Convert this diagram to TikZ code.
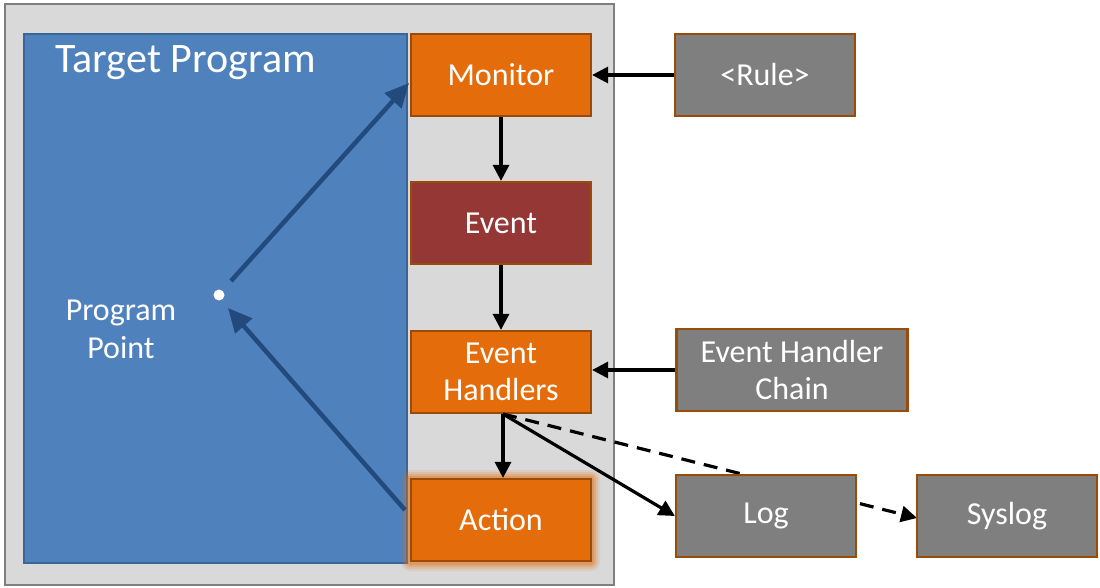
\documentclass[tikz,border=0pt]{standalone}
\usepackage{fontspec}
\setmainfont{Carlito}
\usetikzlibrary{arrows.meta}
\definecolor{panel}{HTML}{D9D9D9}
\definecolor{panelline}{HTML}{7F7F7F}
\definecolor{progblue}{HTML}{4F81BD}
\definecolor{progline}{HTML}{3A6596}
\definecolor{flowblue}{HTML}{224A7C}
\definecolor{stage}{HTML}{E46C0A}
\definecolor{stageline}{HTML}{9A4A09}
\definecolor{eventred}{HTML}{953735}
\definecolor{extgray}{HTML}{7F7F7F}
\begin{document}
\begin{tikzpicture}[x=1pt,y=-1pt,
  box/.style={draw=stageline,line width=2.2pt,text=white,font=\fontsize{32}{37}\selectfont,align=center,inner sep=0pt},
  stagebox/.style={box,fill=stage,minimum width=180pt,minimum height=82pt},
  extbox/.style={box,fill=extgray,minimum height=82pt},
  flow/.style={line width=3.2pt,-{Triangle[length=16pt,width=16pt]}},
  pflow/.style={draw=flowblue,line width=4.5pt,-{Triangle[length=24pt,width=22pt]}}]
\useasboundingbox (0,0) rectangle (1100,588);
% container and program area
\draw[fill=panel,draw=panelline,line width=2.5pt] (5,4) rectangle (614,585);
\draw[fill=progblue,draw=progline,line width=1.5pt] (24,34) rectangle (407,563);
\node[text=white,font=\fontsize{42}{46}\selectfont,anchor=west] (title) at (52,63) {Target Program};
\node[text=white,font=\fontsize{32}{38}\selectfont,align=center] (pp) at (121,329) {Program\\Point};
\fill[white] (219,295) circle (5.5pt);
\coordinate (dot) at (219,295);
% glow behind the action stage
\foreach \g/\o in {9/0.10,7/0.15,5/0.2,3/0.3}
  \fill[stage,opacity=\o,rounded corners=\g pt] (410-\g,479-\g) rectangle (591+\g,562+\g);
% stages
\node[stagebox] (mon) at (501,75) {Monitor};
\node[stagebox,fill=eventred] (evt) at (501,223) {Event};
\node[stagebox] (eh) at (501,372) {Event\\Handlers};
\node[stagebox] (act) at (501,520) {Action};
% external inputs and outputs
\node[extbox,minimum width=180pt] (rule) at (765,75) {<Rule>};
\node[extbox,minimum width=231pt] (chain) at (792,370) {Event Handler\\Chain};
\coordinate (ehb) at (503,414);
\coordinate (sys-in) at (917,518);
\draw[flow,dashed,dash pattern=on 14pt off 9pt] (ehb) -- (sys-in);
\node[extbox,minimum width=180pt] (log) at (766,516) {Log};
\node[extbox,minimum width=180pt] (sys) at (1007,516) {Syslog};
% connectors
\draw[flow] (rule.west) -- (mon.east);
\draw[flow] (mon.south) -- (evt.north);
\draw[flow] (evt.south) -- (eh.north);
\draw[flow] (chain.west) -- (eh.east |- chain.west);
\draw[flow] (ehb) -- (act.north -| ehb);
\draw[flow] (ehb) -- (log.west);
% control flow through the program point
\draw[pflow] (231,281) -- (409,83);
\draw[pflow] (405,510) -- (228,308);
\end{tikzpicture}
\end{document}
